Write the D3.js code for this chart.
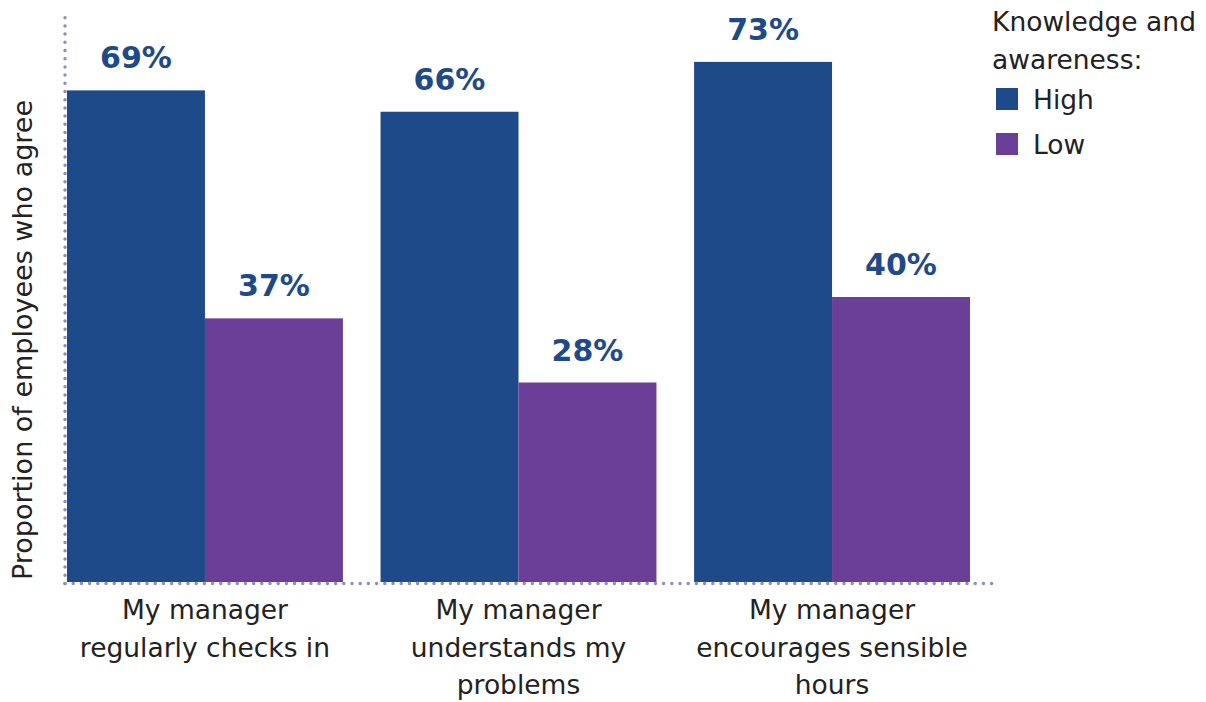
<!DOCTYPE html>
<html>
<head>
<meta charset="utf-8">
<script src="https://cdn.jsdelivr.net/npm/d3@7"></script>
<style>
  body { margin: 0; background: #fff; }
  svg { display: block; }
  text { font-family: "DejaVu Sans", "Open Sans", sans-serif; }
</style>
</head>
<body>
<svg id="chart" width="1206" height="702"></svg>
<script>
const categories = [
  ["My manager", "regularly checks in"],
  ["My manager", "understands my", "problems"],
  ["My manager", "encourages sensible", "hours"]
];
const seriesNames = ["High", "Low"];
const highValues = [69, 66, 73];
const lowValues = [37, 28, 40];
const legendTitle = ["Knowledge and", "awareness:"];
const yTitle = "Proportion of employees who agree";

const colors = { High: "#1f4a8a", Low: "#6b3f97" };
const dotColor = "#8b8ebf";

const svg = d3.select("#chart");
const plotLeft = 65, plotRight = 993, plotTop = 12, plotBottom = 582;

const x0 = d3.scaleBand().domain(d3.range(categories.length)).range([67, 970]).paddingInner(0.12).paddingOuter(0);
const x1 = d3.scaleBand().domain(seriesNames).range([0, x0.bandwidth()]).padding(0);
const y = d3.scaleLinear().domain([0, 80]).range([plotBottom, plotTop]);

const data = categories.map((c, i) => ({ i, values: [
  { key: "High", v: highValues[i] },
  { key: "Low", v: lowValues[i] }
]}));

const g = svg.append("g");
const groups = g.selectAll("g.grp").data(data).join("g")
  .attr("transform", d => `translate(${x0(d.i)},0)`);

groups.selectAll("rect").data(d => d.values).join("rect")
  .attr("x", d => x1(d.key))
  .attr("width", x1.bandwidth())
  .attr("y", d => y(d.v))
  .attr("height", d => y(0) - y(d.v))
  .attr("fill", d => colors[d.key]);

groups.selectAll("text.val").data(d => d.values).join("text")
  .attr("class", "val")
  .attr("x", d => x1(d.key) + x1.bandwidth() / 2)
  .attr("y", d => y(d.v) - 22)
  .attr("text-anchor", "middle")
  .attr("font-size", 30)
  .attr("font-weight", 700)
  .attr("fill", "#1f4a8a")
  .text(d => d.v + "%");

// axes (dotted)
svg.append("line").attr("x1", plotLeft).attr("x2", plotRight).attr("y1", plotBottom + 1.5).attr("y2", plotBottom + 1.5)
  .attr("stroke", dotColor).attr("stroke-width", 3.5).attr("stroke-linecap", "round").attr("stroke-dasharray", "0,8.2");
svg.append("line").attr("x1", plotLeft).attr("x2", plotLeft).attr("y1", plotBottom + 1.5).attr("y2", 14)
  .attr("stroke", dotColor).attr("stroke-width", 3.5).attr("stroke-linecap", "round").attr("stroke-dasharray", "0,8.2");

// category labels
const catG = svg.append("g");
data.forEach(d => {
  const cx = x0(d.i) + x0.bandwidth() / 2;
  const t = catG.append("text")
    .attr("x", cx)
    .attr("y", 619)
    .attr("text-anchor", "middle")
    .attr("font-size", 26.5)
    .attr("fill", "#222");
  categories[d.i].forEach((line, k) => {
    t.append("tspan").attr("x", cx).attr("dy", k === 0 ? 0 : 37.5).text(line);
  });
});

// y title
svg.append("text")
  .attr("transform", `translate(32,340) rotate(-90)`)
  .attr("text-anchor", "middle")
  .attr("font-size", 27)
  .attr("fill", "#222")
  .text(yTitle);

// legend
const lg = svg.append("g");
legendTitle.forEach((l, k) => {
  lg.append("text").attr("x", 992).attr("y", 31 + k * 38).attr("font-size", 26.5).attr("fill", "#222").text(l);
});
seriesNames.forEach((s, k) => {
  lg.append("rect").attr("x", 996).attr("y", 88 + k * 45).attr("width", 22).attr("height", 22).attr("fill", colors[s]);
  lg.append("text").attr("x", 1033).attr("y", 109 + k * 45).attr("font-size", 26.5).attr("fill", "#222").text(s);
});
</script>
</body>
</html>
